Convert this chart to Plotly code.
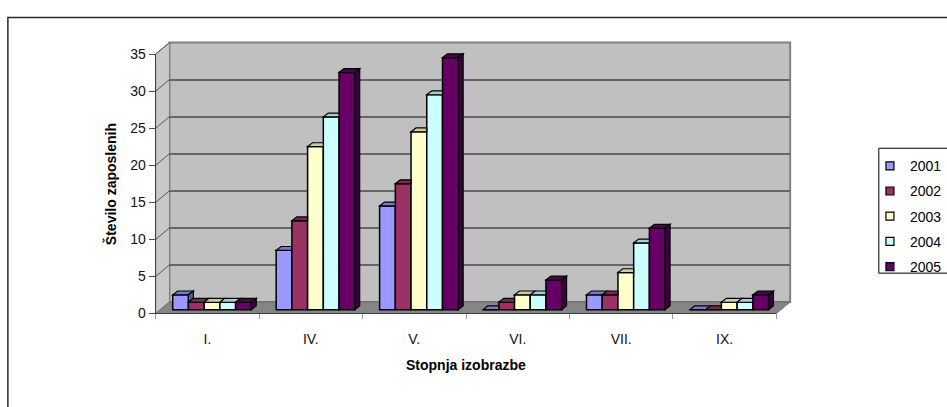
import plotly.graph_objects as go

# ---- data -------------------------------------------------------------
categories = ["I.", "IV.", "V.", "VI.", "VII.", "IX."]
years = ["2001", "2002", "2003", "2004", "2005"]
v2001 = [2, 8, 14, 0, 2, 0]
v2002 = [1, 12, 17, 1, 2, 0]
v2003 = [1, 22, 24, 2, 5, 1]
v2004 = [1, 26, 29, 2, 9, 1]
v2005 = [1, 32, 34, 4, 11, 2]
y_ticks = [0, 5, 10, 15, 20, 25, 30, 35]

series = [v2001, v2002, v2003, v2004, v2005]
colors = ["#9999FF", "#993366", "#FFFFCC", "#CCFFFF", "#660066"]

# ---- layout geometry (pixels) -----------------------------------------
W, H = 947, 407
FRONT_L, FRONT_R = 158, 788      # front plane (axes)
FRONT_B, FRONT_T = 318, 48
WALL_DX, WALL_DY = 14, 12        # depth of the walls / floor
BAR_OX, BAR_OY = 4.7, 4          # bars sit a little behind the front plane
BAR_DX, BAR_DY = 5, 4            # depth of each column
Y_MAX = 35
N_CAT = len(categories)
PX_PER_Y = (FRONT_B - FRONT_T) / Y_MAX
PX_PER_X = (FRONT_R - FRONT_L) / N_CAT
BAR_Y_LOW = -0.6                 # a little room below the bar baseline

FONT = "Arial, 'Liberation Sans', sans-serif"
FS = 14


def px(x):
    return x / W


def py(y):
    return 1 - y / H


def shade(hex_color, f):
    r, g, b = (int(hex_color[i:i + 2], 16) for i in (1, 3, 5))
    return "#%02x%02x%02x" % (int(r * f), int(g * f), int(b * f))


fig = go.Figure()

# empty traces so the front and back-wall subplots are created
fig.add_trace(go.Scatter(x=[None], y=[None], xaxis="x", yaxis="y",
                         showlegend=False, hoverinfo="skip"))
fig.add_trace(go.Scatter(x=[None], y=[None], xaxis="x2", yaxis="y2",
                         showlegend=False, hoverinfo="skip"))

centers = [i + 0.5 for i in range(N_CAT)]
BARGAP = 0.24
bar_w = (1 - BARGAP) / len(years)

for year, vals, col in zip(years, series, colors):
    fig.add_trace(go.Bar(
        x=centers, y=vals, name=year, legendgroup=year, showlegend=False,
        xaxis="x3", yaxis="y3",
        marker=dict(color=col, line=dict(color="black", width=1.5)),
        customdata=categories,
        hovertemplate="%{customdata}<br>" + year + ": %{y}<extra></extra>",
    ))
    # legend entry with a small square swatch
    fig.add_trace(go.Scatter(
        x=[None], y=[None], name=year, legendgroup=year, mode="markers",
        xaxis="x3", yaxis="y3",
        marker=dict(symbol="square", size=8, color=col,
                    line=dict(color="black", width=1.2)),
    ))

shapes = []

# chart area frame
shapes.append(dict(type="rect", xref="paper", yref="paper", layer="below",
                   x0=px(8), y0=py(10), x1=px(962), y1=py(422),
                   line=dict(color="#2a2a2a", width=1.5), fillcolor="white"))

# back wall, side wall and floor
BX0, BX1 = FRONT_L + WALL_DX, FRONT_R + WALL_DX
BY0, BY1 = FRONT_B - WALL_DY, FRONT_T - WALL_DY
shapes.append(dict(type="rect", xref="paper", yref="paper", layer="below",
                   x0=px(BX0), x1=px(BX1), y0=py(BY0), y1=py(BY1),
                   fillcolor="#C0C0C0", line=dict(color="#808080", width=2)))


def ppath(points):
    return "M" + "L".join("%.5f,%.5f" % (px(a), py(b)) for a, b in points) + "Z"


shapes.append(dict(type="path", xref="paper", yref="paper", layer="below",
                   path=ppath([(FRONT_L, FRONT_B), (FRONT_L, FRONT_T),
                               (BX0, BY1), (BX0, BY0)]),
                   fillcolor="#C8C8C8", line=dict(color="#808080", width=1)))
shapes.append(dict(type="path", xref="paper", yref="paper", layer="below",
                   path=ppath([(FRONT_L, FRONT_B), (FRONT_R, FRONT_B),
                               (BX1, BY0), (BX0, BY0)]),
                   fillcolor="#858585", line=dict(color="#6a6a6a", width=1)))

# gridline continuation across the side wall
for t in y_ticks[1:]:
    yf = FRONT_B - t * PX_PER_Y
    shapes.append(dict(type="line", xref="paper", yref="paper", layer="below",
                       x0=px(FRONT_L), y0=py(yf),
                       x1=px(BX0), y1=py(yf - WALL_DY),
                       line=dict(color="#555555", width=1)))

# 3-D faces of the columns (top and right side)
ddx = BAR_DX / PX_PER_X
ddy = BAR_DY / PX_PER_Y
for k, (vals, col) in enumerate(zip(series, colors)):
    top_col = shade(col, 0.8)
    side_col = shade(col, 0.58)
    for i, c in enumerate(centers):
        v = vals[i]
        x0 = c - (1 - BARGAP) / 2 + k * bar_w
        x1 = x0 + bar_w
        nxt = series[k + 1][i] if k + 1 < len(series) else 0
        # top face, trimmed where the next column stands in front of it
        if nxt >= v + ddy:
            pts = [(x0, v), (x1, v), (x1, v + ddy), (x0 + ddx, v + ddy)]
        else:
            pts = [(x0, v), (x1, v), (x1 + ddx, v + ddy), (x0 + ddx, v + ddy)]
        shapes.append(dict(
            type="path", xref="x3", yref="y3", layer="above",
            path="M" + "L".join("%.5f,%.5f" % p for p in pts) + "Z",
            fillcolor=top_col, line=dict(color="black", width=1.2)))
        # right side face, only the part above the next column
        if v > nxt:
            pts = [(x1, nxt), (x1, v), (x1 + ddx, v + ddy), (x1 + ddx, nxt + ddy)]
            shapes.append(dict(
                type="path", xref="x3", yref="y3", layer="above",
                path="M" + "L".join("%.5f,%.5f" % p for p in pts) + "Z",
                fillcolor=side_col, line=dict(color="black", width=1.2)))

# legend frame
shapes.append(dict(type="rect", xref="paper", yref="paper", layer="below",
                   x0=px(892), x1=px(965), y0=py(146), y1=py(276),
                   line=dict(color="black", width=1), fillcolor="white"))

annotations = [
    dict(text="Število zaposlenih", x=px(112), y=py(FRONT_B - (FRONT_B - FRONT_T) / 2),
         xref="paper", yref="paper", textangle=-90, showarrow=False,
         xanchor="center", yanchor="middle",
         font=dict(family=FONT, size=FS, color="black", weight="bold")),
    dict(text="Stopnja izobrazbe", x=px((FRONT_L + FRONT_R) / 2), y=py(372),
         xref="paper", yref="paper", showarrow=False,
         xanchor="center", yanchor="middle",
         font=dict(family=FONT, size=FS, color="black", weight="bold")),
]

hidden = dict(showgrid=False, zeroline=False, showline=False,
              showticklabels=False, ticks="", fixedrange=True)

fig.update_layout(
    width=W, height=H, autosize=False,
    margin=dict(l=0, r=0, t=0, b=0),
    paper_bgcolor="white", plot_bgcolor="rgba(0,0,0,0)",
    font=dict(family=FONT, size=FS, color="black"),
    barmode="group", bargap=BARGAP, bargroupgap=0,
    xaxis=dict(domain=[px(FRONT_L), px(FRONT_R)], range=[0, N_CAT],
               anchor="y", showgrid=False, zeroline=False,
               showline=True, linecolor="#404040", linewidth=1,
               tickvals=centers, ticktext=categories, ticks="",
               ticklabelstandoff=13, tickfont=dict(size=FS, color="#111"),
               minor=dict(ticks="outside", tick0=0, dtick=1, ticklen=5,
                          tickcolor="#9a9a9a", tickwidth=1, showgrid=False),
               fixedrange=True),
    yaxis=dict(domain=[py(FRONT_B), py(FRONT_T)], range=[0, Y_MAX],
               anchor="x", showgrid=False, zeroline=False,
               showline=True, linecolor="#404040", linewidth=1,
               tickvals=y_ticks, ticks="outside", ticklen=6,
               tickcolor="#505050", tickwidth=1,
               tickfont=dict(size=FS, color="#111"), fixedrange=True),
    xaxis2=dict(domain=[px(BX0), px(BX1)], range=[0, N_CAT], anchor="y2", **hidden),
    yaxis2=dict(domain=[py(BY0), py(BY1)], range=[0, Y_MAX], anchor="x2",
                showgrid=True, gridcolor="#666666", gridwidth=1.5,
                tickvals=y_ticks, zeroline=False, showline=False,
                showticklabels=False, ticks="", fixedrange=True),
    xaxis3=dict(domain=[px(FRONT_L + BAR_OX), px(FRONT_R + BAR_OX)],
                range=[0, N_CAT], anchor="y3", **hidden),
    yaxis3=dict(domain=[py(FRONT_B - BAR_OY - BAR_Y_LOW * PX_PER_Y),
                        py(FRONT_T - BAR_OY)],
                range=[BAR_Y_LOW, Y_MAX], anchor="x3", **hidden),
    legend=dict(x=px(883), y=py(148), xanchor="left", yanchor="top",
                bgcolor="rgba(0,0,0,0)", borderwidth=0,
                tracegroupgap=4, font=dict(size=FS, color="black")),
    shapes=shapes,
    annotations=annotations,
)

# page without default body margin so the figure sits at the top-left corner
fig.write_html(
    "out.html",
    post_script="document.body.style.margin='0';document.body.style.overflow='hidden';",
)
